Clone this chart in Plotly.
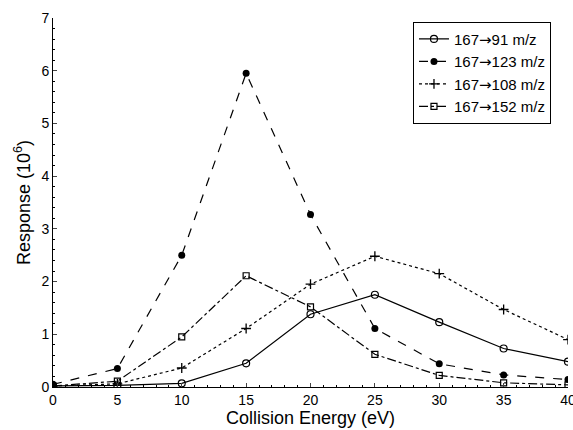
import plotly.graph_objects as go

# collision energies (eV)
energy = [0, 5, 10, 15, 20, 25, 30, 35, 40]

# responses (10^6) per transition
resp_91 = [0.02, 0.03, 0.07, 0.45, 1.38, 1.75, 1.23, 0.73, 0.48]
resp_123 = [0.05, 0.35, 2.50, 5.95, 3.27, 1.11, 0.44, 0.23, 0.14]
resp_108 = [0.02, 0.06, 0.36, 1.11, 1.95, 2.48, 2.15, 1.47, 0.90]
resp_152 = [0.02, 0.11, 0.95, 2.11, 1.52, 0.62, 0.22, 0.08, 0.04]

arrow = "<span style='font-family:DejaVu Sans'>\u2192</span>"
names = ["167" + arrow + "91 m/z", "167" + arrow + "123 m/z",
         "167" + arrow + "108 m/z", "167" + arrow + "152 m/z"]

fig = go.Figure()
fig.add_trace(go.Scatter(x=energy, y=resp_91, name=names[0], mode="lines+markers",
                         line=dict(color="black", width=1.2, dash="solid"),
                         marker=dict(symbol="circle-open", size=7, color="black", line=dict(width=1.2))))
fig.add_trace(go.Scatter(x=energy, y=resp_123, name=names[1], mode="lines+markers",
                         line=dict(color="black", width=1.2, dash="dash"),
                         marker=dict(symbol="circle", size=7, color="black")))
fig.add_trace(go.Scatter(x=energy, y=resp_108, name=names[2], mode="lines+markers",
                         line=dict(color="black", width=1.2, dash="dot"),
                         marker=dict(symbol="cross-thin", size=7, color="black", line=dict(width=1.3, color="black"))))
fig.add_trace(go.Scatter(x=energy, y=resp_152, name=names[3], mode="lines+markers",
                         line=dict(color="black", width=1.2, dash="dashdot"),
                         marker=dict(symbol="square-open", size=6, color="black", line=dict(width=1.2))))

# Customize aspect
fig.update_layout(
    width=573, height=430,
    margin=dict(l=53, r=5, t=18, b=43, autoexpand=False),
    plot_bgcolor="white", paper_bgcolor="white",
    font=dict(family="Liberation Sans, Arial, sans-serif", size=14, color="black"),
    legend=dict(x=0.699, y=0.99, xanchor="left", yanchor="top",
                bordercolor="black", borderwidth=1, bgcolor="white",
                font=dict(size=15), itemwidth=30, tracegroupgap=0),
    showlegend=True,
)
fig.update_xaxes(range=[0, 40], tickvals=energy, ticks="inside", ticklen=4,
                 ticklabeloverflow="allow",
                 showline=True, linecolor="black", linewidth=1, showgrid=False, zeroline=False,
                 minor=dict(ticks="inside", ticklen=2, dtick=1, tickcolor="black"),
                 title=dict(text="Collision Energy (eV)", font=dict(size=18), standoff=0))
fig.update_yaxes(range=[0, 7], dtick=1, ticks="inside", ticklen=4,
                 showline=True, linecolor="black", linewidth=1, showgrid=False, zeroline=False,
                 minor=dict(ticks="inside", ticklen=2, dtick=0.2, tickcolor="black"),
                 title=dict(text="Response (10<sup>6</sup>)", font=dict(size=18), standoff=6))

fig.write_html("out.html", config={"displayModeBar": False},
               post_script="document.body.style.margin='0';")
